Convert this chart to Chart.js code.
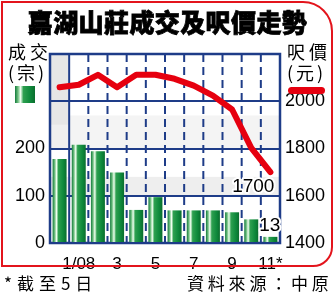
<!DOCTYPE html>
<html>
<head>
<meta charset="utf-8">
<script src="https://cdn.jsdelivr.net/npm/chart.js@4.4.0/dist/chart.umd.min.js"></script>
<style>
body { margin: 0; background: #fff; }
#wrap { position: relative; width: 335px; height: 293px; overflow: hidden; font-family: "Noto Sans CJK TC", sans-serif; color: #000; }
#c { position: absolute; left: 0; top: 0; }
.t { position: absolute; white-space: nowrap; }
#frame { position: absolute; left: 1px; top: 1px; width: 328px; height: 262px; border: 2px solid #e3141c; border-radius: 0 30px 20px 0; }
#title { left: 0; top: 6px; width: 335px; text-align: center; font-size: 25px; line-height: 30px; font-weight: 900; letter-spacing: 0.4px; -webkit-text-stroke: 0.8px #000; }
.side { font-size: 18px; line-height: 20px; letter-spacing: 4px; }
#swatch { position: absolute; left: 15px; top: 86px; width: 20px; height: 17px;
  background: linear-gradient(to right, #117a3a 0%, #6fbf80 15%, #f0fff0 28%, #2ea050 42%, #0f8a3c 75%, #0a6e2e 100%); }
#redkey { position: absolute; left: 288px; top: 87px; width: 37px; height: 7px; border-radius: 4px; background: #e6000f; }
.foot { font-size: 17px; line-height: 22px; top: 272px; }
</style>
</head>
<body>
<div id="wrap">
  <canvas id="c" width="335" height="293"></canvas>
  <div id="frame"></div>
  <div class="t" id="title">嘉湖山莊成交及呎價走勢</div>
  <div class="t side" style="left:8px;top:41px;">成交</div>
  <div class="t side" style="left:8px;top:62px;letter-spacing:3px;">(宗)</div>
  <div id="swatch"></div>
  <div class="t side" style="left:287px;top:41px;">呎價</div>
  <div class="t side" style="left:287px;top:62px;letter-spacing:3px;">(元)</div>
  <div id="redkey"></div>
  <div class="t foot" style="left:4px;letter-spacing:5px;">*截至5日</div>
  <div class="t foot" style="left:187px;letter-spacing:3.8px;">資料來源：中原</div>
</div>
<script>
// months: Dec 07 .. Nov 08 (Nov up to the 5th)
var months = ['12', '1/08', '2', '3', '4', '5', '6', '7', '8', '9', '10', '11*'];
var monthTicks = ['', '1/08', '', '3', '', '5', '', '7', '', '9', '', '11*'];
var deals = [178, 208, 194, 149, 70, 97, 69, 69, 69, 65, 50, 13];
var price = [2059, 2070, 2112, 2059, 2112, 2112, 2095, 2066, 2024, 1965, 1803, 1700];
var dealTicks = [0, 100, 200];
var priceTicks = [1400, 1600, 1800, 2000];

var navy = '#1e3c88';

function barFill(ctx) {
  var chart = ctx.chart, xs = chart.scales.x;
  if (!xs || ctx.dataIndex === undefined) return '#138a3e';
  var cx = xs.getPixelForValue(ctx.dataIndex);
  var w = xs.width / months.length * 0.73;
  if (!isFinite(cx) || !isFinite(w) || w <= 0) return '#138a3e';
  var g = chart.ctx.createLinearGradient(cx - w / 2, 0, cx + w / 2, 0);
  g.addColorStop(0, '#117a3a');
  g.addColorStop(0.15, '#6fbf80');
  g.addColorStop(0.28, '#f0fff0');
  g.addColorStop(0.42, '#2ea050');
  g.addColorStop(0.75, '#0f8a3c');
  g.addColorStop(1, '#0a6e2e');
  return g;
}

// plot background, column for last year, dashed month lines, frame
var backdrop = {
  id: 'backdrop',
  beforeDraw: function (chart) {
    var c = chart.ctx, a = chart.chartArea, xs = chart.scales.x, yl = chart.scales.yL;
    var half = xs.width / months.length / 2;
    c.save();
    c.fillStyle = '#fff';
    c.fillRect(a.left, a.top, a.right - a.left, a.bottom - a.top);
    c.fillStyle = '#f4f4f4';
    c.fillRect(a.left, yl.getPixelForValue(270), a.right - a.left, yl.getPixelForValue(200) - yl.getPixelForValue(270));
    c.fillStyle = '#eeeeee';
    c.fillRect(a.left, yl.getPixelForValue(140), a.right - a.left, yl.getPixelForValue(100) - yl.getPixelForValue(140));
    var x0 = xs.getPixelForValue(0);
    c.fillStyle = '#e6e6e6';
    c.fillRect(x0 - half, a.top, half * 2, yl.getPixelForValue(250) - a.top);
    c.fillStyle = '#efefef';
    c.fillRect(x0 - half, yl.getPixelForValue(250), half * 2, yl.getPixelForValue(200) - yl.getPixelForValue(250));
    c.strokeStyle = navy;
    c.lineWidth = 2;
    for (var i = 0; i < months.length - 1; i++) {
      var bx = (xs.getPixelForValue(i) + xs.getPixelForValue(i + 1)) / 2;
      c.setLineDash(i === 0 ? [] : [8, 5]);
      c.beginPath();
      c.moveTo(bx, a.top);
      c.lineTo(bx, a.bottom);
      c.stroke();
    }
    c.restore();
  },
  beforeDatasetsDraw: function (chart) {
    var c = chart.ctx, a = chart.chartArea;
    c.save();
    c.strokeStyle = navy;
    c.lineWidth = 2.5;
    c.strokeRect(a.left, a.top, a.right - a.left, a.bottom - a.top);
    c.restore();
  },
  afterDatasetsDraw: function (chart) {
    var c = chart.ctx;
    var pts = chart.getDatasetMeta(1).data;
    var bars = chart.getDatasetMeta(0).data;
    var last = months.length - 1;
    c.save();
    c.font = '19px "Liberation Sans", Arial, sans-serif';
    c.textAlign = 'right';
    c.textBaseline = 'middle';
    c.lineJoin = 'round';
    c.strokeStyle = '#fff';
    c.lineWidth = 4;
    c.fillStyle = '#000';
    var p = pts[last];
    c.strokeText(String(price[last]), p.x + 4, p.y + 15);
    c.fillText(String(price[last]), p.x + 4, p.y + 15);
    var b = bars[last];
    c.strokeText(String(deals[last]), b.x + 10, b.y - 11);
    c.fillText(String(deals[last]), b.x + 10, b.y - 11);
    c.restore();
  }
};

var tickFont = { family: '"Liberation Sans", Arial, sans-serif', size: 18 };

new Chart(document.getElementById('c'), {
  type: 'bar',
  data: {
    labels: months,
    datasets: [{
      type: 'bar',
      label: '成交',
      data: deals,
      yAxisID: 'yL',
      backgroundColor: barFill,
      borderWidth: 0,
      barPercentage: 0.73,
      categoryPercentage: 1,
      order: 1
    }, {
      type: 'line',
      label: '呎價',
      data: price,
      yAxisID: 'yR',
      borderColor: '#e6000f',
      borderWidth: 6,
      borderCapStyle: 'round',
      borderJoinStyle: 'round',
      pointRadius: 0,
      tension: 0,
      order: 0
    }]
  },
  options: {
    responsive: false,
    animation: false,
    devicePixelRatio: 1,
    layout: { padding: { top: 54, left: 0, right: 0, bottom: 0 } },
    plugins: { legend: { display: false }, tooltip: { enabled: false } },
    scales: {
      x: {
        offset: true,
        grid: { display: false },
        border: { display: false },
        ticks: {
          padding: 3,
          maxRotation: 0,
          autoSkip: false,
          color: '#000',
          font: { family: '"Liberation Sans Narrow", "Liberation Sans", sans-serif', size: 17 },
          callback: function (v, i) { return monthTicks[i]; }
        },
        afterFit: function (s) { s.height = 50; }
      },
      yL: {
        position: 'left',
        min: 0, max: 400,
        grid: { color: navy, lineWidth: 2, drawTicks: false },
        border: { display: false },
        ticks: {
          stepSize: 100,
          padding: 5,
          color: '#000',
          font: tickFont,
          callback: function (v) { return dealTicks.indexOf(v) >= 0 ? String(v) : ''; }
        },
        afterFit: function (s) { s.width = 50; }
      },
      yR: {
        position: 'right',
        min: 1400, max: 2200,
        grid: { display: false, drawTicks: false },
        border: { display: false },
        ticks: {
          stepSize: 200,
          padding: 5,
          color: '#000',
          font: tickFont,
          callback: function (v) { return priceTicks.indexOf(v) >= 0 ? String(v) : ''; }
        },
        afterFit: function (s) { s.width = 55; }
      }
    }
  },
  plugins: [backdrop]
});
</script>
</body>
</html>
